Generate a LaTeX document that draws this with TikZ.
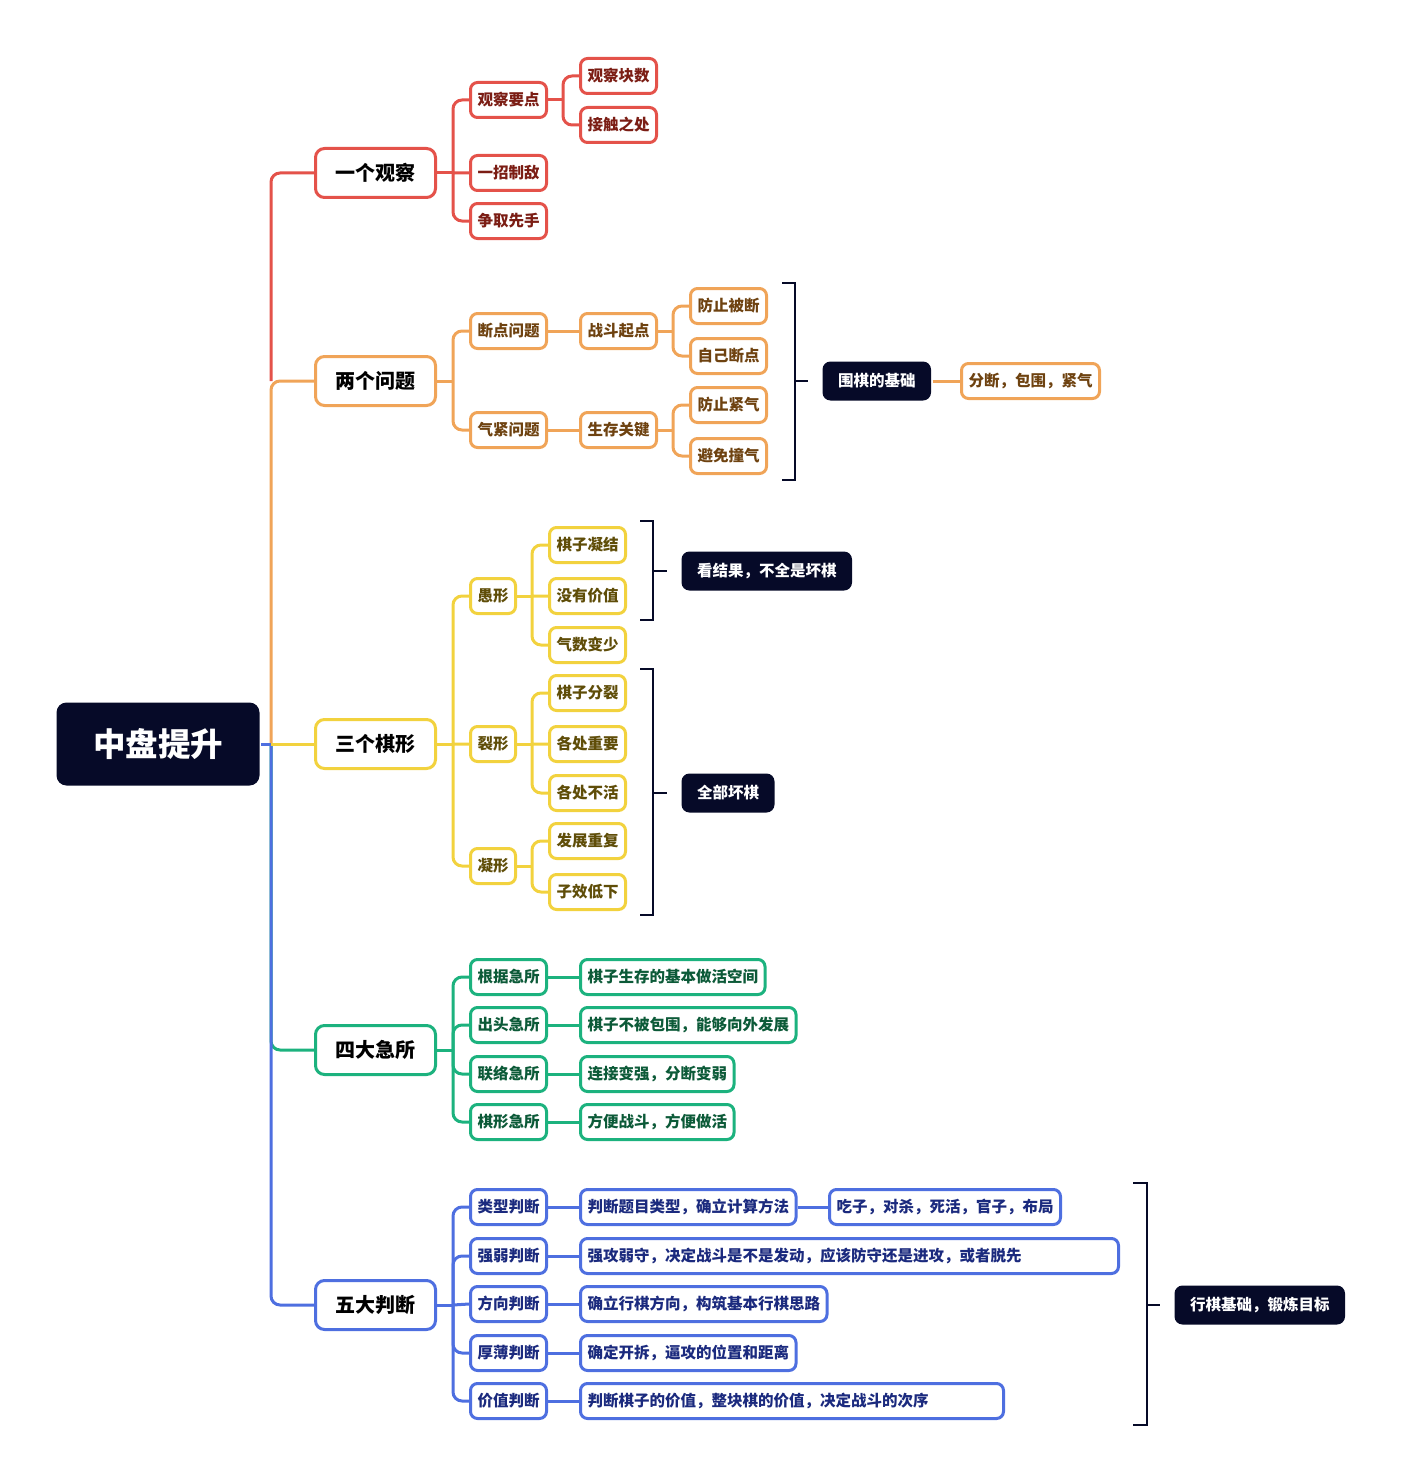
\documentclass[tikz,border=0pt]{standalone}
\usepackage{fontspec}
\setmainfont{Noto Sans CJK SC}
\usepackage{tikz}
\usetikzlibrary{calc}

\definecolor{navy}{HTML}{060A28}
\definecolor{cRed}{HTML}{E4524A}
\definecolor{tRed}{HTML}{7B1D14}
\definecolor{cOra}{HTML}{F0A458}
\definecolor{tOra}{HTML}{6E4210}
\definecolor{cYel}{HTML}{F2D23E}
\definecolor{tYel}{HTML}{5F4D08}
\definecolor{cGrn}{HTML}{1CB27E}
\definecolor{tGrn}{HTML}{0C5A38}
\definecolor{cBlu}{HTML}{4E6FE0}
\definecolor{tBlu}{HTML}{1B2A7E}

\begin{document}
\begin{tikzpicture}[x=1pt, y=-1pt, elbow/.style={rounded corners=9pt}]
    \tikzset{
      leaf/.style={
        rectangle,
        fill=white,
        rounded corners=7pt,
        line width=3pt,
        anchor=west,
        inner xsep=7pt,
        inner ysep=0pt,
        minimum height=35pt,
        font=\bfseries\fontsize{15.5}{18}\selectfont,
      },
      topic/.style={
        leaf,
        rounded corners=9pt,
        inner xsep=20pt,
        minimum height=49pt,
        text=black,
        font=\bfseries\fontsize{20}{24}\selectfont,
      },
      note/.style={
        leaf,
        draw=none,
        fill=navy,
        text=white,
        rounded corners=8pt,
        inner xsep=15.5pt,
        minimum height=39pt,
      },
      red/.style={draw=cRed, text=tRed},
      ora/.style={draw=cOra, text=tOra},
      yel/.style={draw=cYel, text=tYel},
      grn/.style={draw=cGrn, text=tGrn},
      blu/.style={draw=cBlu, text=tBlu},
      lnR/.style={draw=cRed, line width=3pt},
      lnO/.style={draw=cOra, line width=3pt},
      lnY/.style={draw=cYel, line width=3pt},
      lnG/.style={draw=cGrn, line width=3pt},
      lnB/.style={draw=cBlu, line width=3pt},
      brk/.style={draw=navy, line width=2.5pt},
    }

    \useasboundingbox (0,0) rectangle (1400,1482);

    % root
    \node[leaf, note, inner xsep=36.5pt, minimum height=83pt, rounded corners=10pt,
          font=\bfseries\fontsize{32.5}{36}\selectfont] (root) at (55,744) {中盘提升};
    \coordinate (trunk) at (271,744);

    % first level
    \node[red, topic] (obs)   at (314,173)  {一个观察};
    \node[ora, topic] (two)   at (314,381)  {两个问题};
    \node[yel, topic] (three) at (314,744)  {三个棋形};
    \node[grn, topic] (four)  at (314,1050) {四大急所};
    \node[blu, topic] (five)  at (314,1305) {五大判断};

    % one observation
    \node[leaf, red] (obs1)  at (469,100) {观察要点};
    \node[leaf, red] (obs2)  at (469,173) {一招制敌};
    \node[leaf, red] (obs3)  at (469,221) {争取先手};
    \node[leaf, red] (obs11) at (579,76)  {观察块数};
    \node[leaf, red] (obs12) at (579,125) {接触之处};

    % two problems
    \node[leaf, ora] (two1)   at (469,331) {断点问题};
    \node[leaf, ora] (two2)   at (469,430) {气紧问题};
    \node[leaf, ora] (two11)  at (579,331) {战斗起点};
    \node[leaf, ora] (two21)  at (579,430) {生存关键};
    \node[leaf, ora] (two111) at (689,306) {防止被断};
    \node[leaf, ora] (two112) at (689,356) {自己断点};
    \node[leaf, ora] (two211) at (689,405) {防止紧气};
    \node[leaf, ora] (two212) at (689,456) {避免撞气};
    \node[leaf, note] (basis)  at (821,381) {围棋的基础};
    \node[leaf, ora] (basis1) at (960,381) {分断，包围，紧气};

    % three shapes
    \node[leaf, yel] (th1)  at (469,596) {愚形};
    \node[leaf, yel] (th2)  at (469,744) {裂形};
    \node[leaf, yel] (th3)  at (469,866) {凝形};
    \node[leaf, yel] (th11) at (548,545) {棋子凝结};
    \node[leaf, yel] (th12) at (548,596) {没有价值};
    \node[leaf, yel] (th13) at (548,645) {气数变少};
    \node[leaf, yel] (th21) at (548,693) {棋子分裂};
    \node[leaf, yel] (th22) at (548,744) {各处重要};
    \node[leaf, yel] (th23) at (548,793) {各处不活};
    \node[leaf, yel] (th31) at (548,841) {发展重复};
    \node[leaf, yel] (th32) at (548,892) {子效低下};
    \node[leaf, note] (result) at (680,571) {看结果，不全是坏棋};
    \node[leaf, note] (allbad) at (680,793) {全部坏棋};

    % four vital points
    \node[leaf, grn] (f1)  at (469,977)  {根据急所};
    \node[leaf, grn] (f2)  at (469,1025) {出头急所};
    \node[leaf, grn] (f3)  at (469,1074) {联络急所};
    \node[leaf, grn] (f4)  at (469,1122) {棋形急所};
    \node[leaf, grn] (f11) at (579,977)  {棋子生存的基本做活空间};
    \node[leaf, grn] (f21) at (579,1025) {棋子不被包围，能够向外发展};
    \node[leaf, grn] (f31) at (579,1074) {连接变强，分断变弱};
    \node[leaf, grn] (f41) at (579,1122) {方便战斗，方便做活};

    % five judgements
    \node[leaf, blu] (v1)   at (469,1207) {类型判断};
    \node[leaf, blu] (v2)   at (469,1256) {强弱判断};
    \node[leaf, blu] (v3)   at (469,1304) {方向判断};
    \node[leaf, blu] (v4)   at (469,1353) {厚薄判断};
    \node[leaf, blu] (v5)   at (469,1401) {价值判断};
    \node[leaf, blu] (v11)  at (579,1207) {判断题目类型，确立计算方法};
    \node[leaf, blu] (v111) at (828,1207) {吃子，对杀，死活，官子，布局};
    \node[leaf, blu, minimum width=538pt, align=left, text width=524pt]
                     (v21)  at (579,1256) {强攻弱守，决定战斗是不是发动，应该防守还是进攻，或者脱先};
    \node[leaf, blu] (v31)  at (579,1304) {确立行棋方向，构筑基本行棋思路};
    \node[leaf, blu] (v41)  at (579,1353) {确定开拆，逼攻的位置和距离};
    \node[leaf, blu, minimum width=423pt, align=left, text width=409pt]
                     (v51)  at (579,1401) {判断棋子的价值，整块棋的价值，决定战斗的次序};
    \node[leaf, note] (goal) at (1173,1305) {行棋基础，锻炼目标};

    % trunk
    \draw[lnO, elbow] (trunk) |- (two.west);
    \draw[lnR, elbow] (trunk |- two.west) |- (obs.west);
    \draw[lnG, elbow] (trunk) |- (four.west);
    \draw[lnB, elbow] (trunk) |- (five.west);
    \draw[lnY] (trunk) -- (three.west);
    \draw[lnB] (root.east) -- (trunk);

    % red branches
    \draw[lnR] (obs.east) -- ++(16,0) coordinate (jObs);
    \draw[lnR, elbow] (jObs) |- (obs1.west) (jObs) |- (obs3.west) (jObs) -- (obs2.west);
    \draw[lnR] (obs1.east) -- ++(15,0) coordinate (jObs1);
    \draw[lnR, elbow] (jObs1) |- (obs11.west) (jObs1) |- (obs12.west);

    % orange branches
    \draw[lnO] (two.east) -- ++(16,0) coordinate (jTwo);
    \draw[lnO, elbow] (jTwo) |- (two1.west) (jTwo) |- (two2.west);
    \draw[lnO] (two1) -- (two11) (two2) -- (two21) (basis) -- (basis1);
    \foreach \p/\a/\b in {two11/two111/two112, two21/two211/two212} {
        \draw[lnO] (\p.east) -- ++(15,0) coordinate (j\p);
        \draw[lnO, elbow] (j\p) |- (\a.west) (j\p) |- (\b.west);
    }

    % yellow branches
    \draw[lnY] (three.east) -- ++(16,0) coordinate (jThree);
    \draw[lnY, elbow] (jThree) |- (th1.west) (jThree) |- (th3.west) (jThree) -- (th2.west);
    \draw[lnY] (th1.east) -- ++(15,0) coordinate (jTh1);
    \draw[lnY, elbow] (jTh1) |- (th11.west) (jTh1) |- (th13.west) (jTh1) -- (th12.west);
    \draw[lnY] (th2.east) -- ++(15,0) coordinate (jTh2);
    \draw[lnY, elbow] (jTh2) |- (th21.west) (jTh2) |- (th23.west) (jTh2) -- (th22.west);
    \draw[lnY] (th3.east) -- ++(15,0) coordinate (jTh3);
    \draw[lnY, elbow] (jTh3) |- (th31.west) (jTh3) |- (th32.west);

    % green branches
    \draw[lnG] (four.east) -- ++(16,0) coordinate (jFour);
    \foreach \c in {f1,f2,f3,f4} {
        \draw[lnG, elbow] (jFour) |- (\c.west);
        \draw[lnG] (\c) -- (\c1);
    }

    % blue branches
    \draw[lnB] (five.east) -- ++(16,0) coordinate (jFive);
    \foreach \c in {v1,v2,v4,v5} {
        \draw[lnB, elbow] (jFive) |- (\c.west);
    }
    \draw[lnB] (jFive) -- (v3.west);
    \foreach \c in {v1,v2,v3,v4,v5} {
        \draw[lnB] (\c) -- (\c1);
    }
    \draw[lnB] (v11) -- (v111);

    % brackets
    \draw[brk] (782,283) -| (795,480) -- (782,480);
    \draw[brk] (795,381) -- ($(basis.west)+(-13,0)$);
    \draw[brk] (640,521) -| (653,620) -- (640,620);
    \draw[brk] (653,571) -- ($(result.west)+(-13,0)$);
    \draw[brk] (640,669) -| (653,915) -- (640,915);
    \draw[brk] (653,793) -- ($(allbad.west)+(-13,0)$);
    \draw[brk] (1133,1183) -| (1147,1425) -- (1133,1425);
    \draw[brk] (1147,1305) -- ($(goal.west)+(-13,0)$);
\end{tikzpicture}
\end{document}
